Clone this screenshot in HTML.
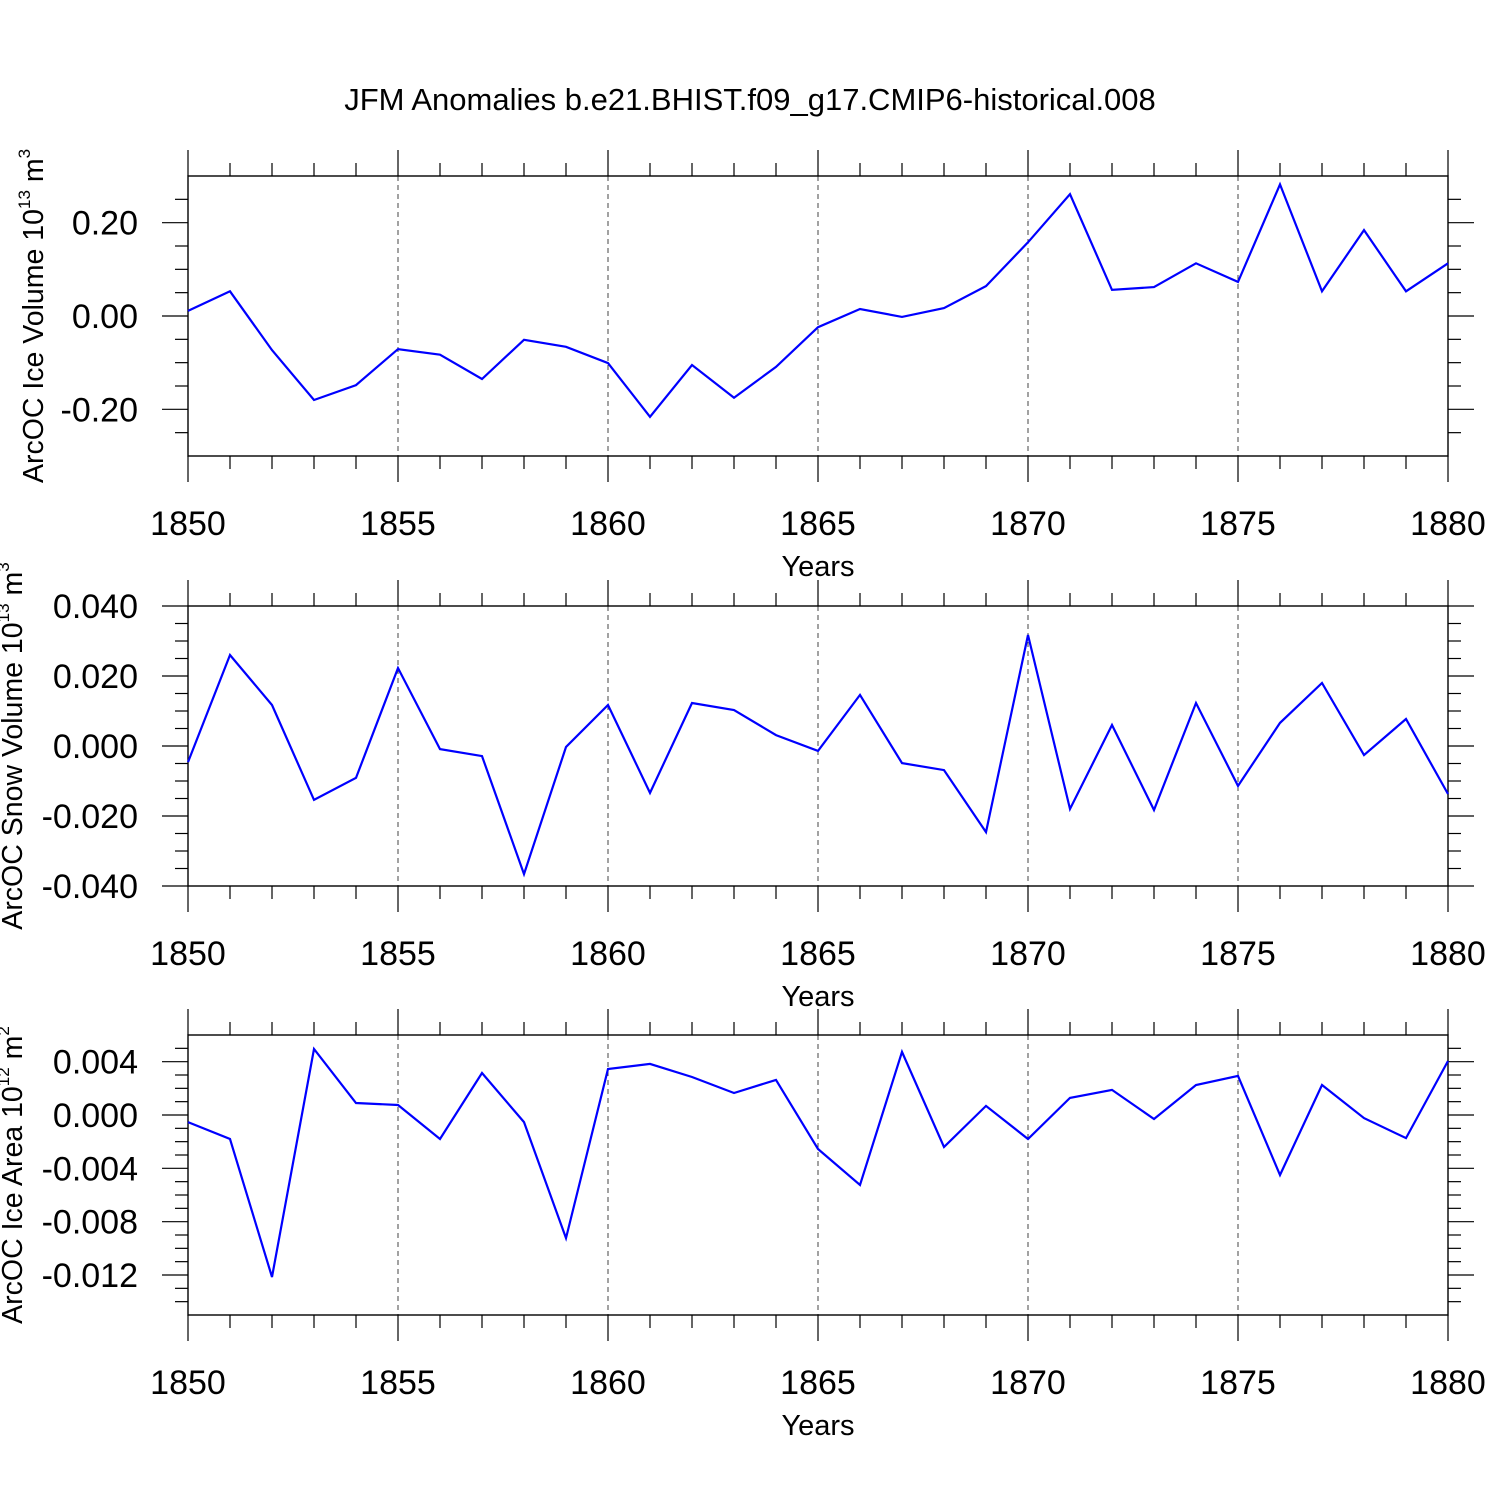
<!DOCTYPE html>
<html><head><meta charset="utf-8"><style>
html,body{margin:0;padding:0;background:#fff;}
svg{display:block;font-family:"Liberation Sans",Arial,sans-serif;}
</style></head><body>
<svg id="chart" width="1500" height="1500" viewBox="0 0 1500 1500" xmlns="http://www.w3.org/2000/svg">
<rect width="1500" height="1500" fill="#fff"/>
<text x="750" y="110" font-size="31" text-anchor="middle">JFM Anomalies b.e21.BHIST.f09_g17.CMIP6-historical.008</text>
</svg>
<script>
const years = [1850,1851,1852,1853,1854,1855,1856,1857,1858,1859,1860,1861,1862,1863,1864,1865,1866,1867,1868,1869,1870,1871,1872,1873,1874,1875,1876,1877,1878,1879,1880];
const iceVolume = [0.011,0.053,-0.073,-0.180,-0.148,-0.071,-0.083,-0.135,-0.051,-0.066,-0.101,-0.216,-0.105,-0.175,-0.109,-0.024,0.015,-0.002,0.017,0.064,0.158,0.261,0.056,0.062,0.113,0.073,0.282,0.053,0.184,0.053,0.113];
const snowVolume = [-0.0046,0.026,0.0117,-0.0154,-0.0091,0.0223,-0.0009,-0.0029,-0.0366,-0.0003,0.0117,-0.0134,0.0123,0.0103,0.0031,-0.0014,0.0146,-0.0049,-0.0069,-0.0246,0.0317,-0.018,0.006,-0.0183,0.0123,-0.0114,0.0066,0.018,-0.0026,0.0077,-0.0137];
const iceArea = [-0.00053,-0.0018,-0.01215,0.00495,0.0009,0.00075,-0.0018,0.00315,-0.00053,-0.00923,0.00345,0.00383,0.00285,0.00165,0.00263,-0.00255,-0.00525,0.00473,-0.0024,0.00068,-0.0018,0.00128,0.00188,-0.0003,0.00225,0.00293,-0.0045,0.00225,-0.00023,-0.00173,0.00405];
const xTickLabels = ["1850","1855","1860","1865","1870","1875","1880"];
const yTicks1 = [-0.2,0,0.2];
const yTickLabels1 = ["-0.20","0.00","0.20"];
const yTicks2 = [-0.04,-0.02,0,0.02,0.04];
const yTickLabels2 = ["-0.040","-0.020","0.000","0.020","0.040"];
const yTicks3 = [-0.012,-0.008,-0.004,0,0.004];
const yTickLabels3 = ["-0.012","-0.008","-0.004","0.000","0.004"];

const svg = document.getElementById('chart');
const NS = 'http://www.w3.org/2000/svg';
const X0 = 188, X1 = 1448;
function xs(v){ return X0 + (v - 1850) / 30 * (X1 - X0); }
function mk(tag, attrs, parent){ const e = document.createElementNS(NS, tag); for (const k in attrs) e.setAttribute(k, attrs[k]); (parent || svg).appendChild(e); return e; }

function panel(cfg){
  const g = mk('g', {});
  
  
  const top = cfg.top, bot = cfg.top + 280;
  const ys = v => bot - (v - cfg.ymin) / (cfg.ymax - cfg.ymin) * 280;
  for (let yr = 1855; yr <= 1875; yr += 5) {
    const l = mk('line', {x1: xs(yr), x2: xs(yr), y1: top, y2: bot, stroke: '#444', 'stroke-width': 1, 'stroke-dasharray': '5,4'}, g);
    
    
  }
  for (let yr = 1850; yr <= 1880; yr++) {
    const major = yr % 5 === 0;
    const len = major ? 26 : 13;
    mk('line', {x1: xs(yr), x2: xs(yr), y1: top - len, y2: top, stroke: '#000', 'stroke-width': 1.2}, g);
    mk('line', {x1: xs(yr), x2: xs(yr), y1: bot, y2: bot + len, stroke: '#000', 'stroke-width': 1.2}, g);
  }
  xTickLabels.forEach(s => {
    const t = mk('text', {x: xs(+s), y: bot + 79, 'font-size': 34, 'text-anchor': 'middle'}, g);
    
    
    t.textContent = s;
  });
  const yt = mk('text', {x: 818, y: bot + 120, 'font-size': 29, 'text-anchor': 'middle'}, g);
  
  
  yt.textContent = 'Years';
  const n = Math.round((cfg.ymax - cfg.ymin) / cfg.minor);
  for (let i = 1; i < n; i++) {
    const v = cfg.ymin + i * cfg.minor;
    const isMajor = cfg.ticks.some(t => Math.abs(t - v) < cfg.minor / 10);
    const len = isMajor ? 26 : 13;
    mk('line', {x1: X0 - len, x2: X0, y1: ys(v), y2: ys(v), stroke: '#000', 'stroke-width': 1.2}, g);
    mk('line', {x1: X1, x2: X1 + len, y1: ys(v), y2: ys(v), stroke: '#000', 'stroke-width': 1.2}, g);
  }
  cfg.ticks.forEach((v, i) => {
    if (v === cfg.ymin || v === cfg.ymax) {
      mk('line', {x1: X0 - 26, x2: X0, y1: ys(v), y2: ys(v), stroke: '#000', 'stroke-width': 1.2}, g);
      mk('line', {x1: X1, x2: X1 + 26, y1: ys(v), y2: ys(v), stroke: '#000', 'stroke-width': 1.2}, g);
    }
    const t = mk('text', {x: 138, y: ys(v) + 12, 'font-size': 34, 'text-anchor': 'end'}, g);
    
    
    t.textContent = cfg.labels[i];
  });
  const box = mk('rect', {x: X0, y: top, width: X1 - X0, height: 280, fill: 'none', stroke: '#000', 'stroke-width': 1.4}, g);
  
  
  const pts = years.map((yr, i) => xs(yr).toFixed(1) + ',' + ys(cfg.data[i]).toFixed(1)).join(' ');
  const pl = mk('polyline', {points: pts, fill: 'none', stroke: '#0000ff', 'stroke-width': 2.2, 'stroke-linejoin': 'miter'}, g);
  
  
  const cy = top + 140;
  const tt = mk('text', {x: 0, y: 0, 'font-size': 28.5, 'text-anchor': 'middle', transform: 'translate(' + cfg.tx + ',' + cy + ') rotate(-90)'}, g);
  
  
  tt.innerHTML = cfg.title + ' 10<tspan font-size="17" dy="-13">' + cfg.exp + '</tspan><tspan dy="13"> m</tspan><tspan font-size="17" dy="-13">' + cfg.unitExp + '</tspan>';
}

panel({name: 'ice-volume-panel', top: 176, ymin: -0.3, ymax: 0.3, minor: 0.05, ticks: yTicks1, labels: yTickLabels1, data: iceVolume, title: 'ArcOC Ice Volume', exp: '13', unitExp: '3', tx: 43});
panel({name: 'snow-volume-panel', top: 606, ymin: -0.04, ymax: 0.04, minor: 0.005, ticks: yTicks2, labels: yTickLabels2, data: snowVolume, title: 'ArcOC Snow Volume', exp: '13', unitExp: '3', tx: 22});
panel({name: 'ice-area-panel', top: 1035, ymin: -0.015, ymax: 0.006, minor: 0.001, ticks: yTicks3, labels: yTickLabels3, data: iceArea, title: 'ArcOC Ice Area', exp: '12', unitExp: '2', tx: 22});
</script>
</body></html>
